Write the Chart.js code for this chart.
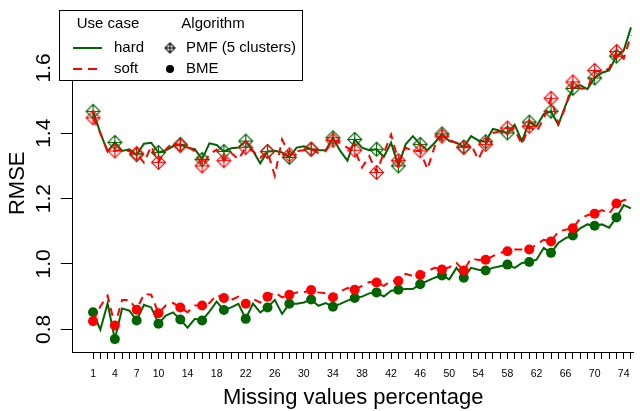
<!DOCTYPE html>
<html>
<head>
<meta charset="utf-8">
<script src="https://cdn.jsdelivr.net/npm/chart.js@4.4.1/dist/chart.umd.min.js"></script>
<style>
  html, body { margin: 0; padding: 0; background: #fff; }
  #wrap { width: 640px; height: 411px; }
</style>
</head>
<body>
<div id="wrap"><canvas id="rmseChart"></canvas></div>
<script>
// Missing values percentage (x) and the labelled ticks
const xValues = [];
for (let i = 1; i <= 75; i++) xValues.push(i);
const xLabels = [1, 4, 7, 10, 14, 18, 22, 26, 30, 34, 38, 42, 46, 50, 54, 58, 62, 66, 70, 74];
const yTicks = [0.8, 1.0, 1.2, 1.4, 1.6];

// RMSE per percentage
const pmfHard = [1.467, 1.401, 1.344, 1.372, 1.346, 1.351, 1.334, 1.368, 1.371, 1.341,
  1.348, 1.360, 1.366, 1.356, 1.351, 1.320, 1.369, 1.364, 1.344, 1.354,
  1.356, 1.376, 1.346, 1.308, 1.344, 1.346, 1.341, 1.326, 1.356, 1.360,
  1.351, 1.348, 1.348, 1.386, 1.346, 1.316, 1.381, 1.356, 1.348, 1.351,
  1.328, 1.371, 1.300, 1.366, 1.391, 1.366, 1.348, 1.371, 1.398, 1.376,
  1.371, 1.358, 1.391, 1.378, 1.374, 1.413, 1.408, 1.401, 1.426, 1.376,
  1.434, 1.421, 1.459, 1.467, 1.426, 1.485, 1.537, 1.547, 1.535, 1.569,
  1.585, 1.592, 1.636, 1.653, 1.724];
const pmfSoft = [1.447, 1.400, 1.345, 1.346, 1.350, 1.345, 1.338, 1.310, 1.360, 1.311,
  1.350, 1.372, 1.362, 1.358, 1.345, 1.300, 1.335, 1.350, 1.316, 1.340,
  1.320, 1.356, 1.345, 1.325, 1.344, 1.270, 1.381, 1.334, 1.345, 1.348,
  1.351, 1.340, 1.345, 1.378, 1.370, 1.355, 1.348, 1.295, 1.330, 1.280,
  1.340, 1.396, 1.316, 1.356, 1.345, 1.346, 1.290, 1.360, 1.391, 1.380,
  1.370, 1.356, 1.365, 1.320, 1.366, 1.401, 1.405, 1.416, 1.410, 1.366,
  1.421, 1.405, 1.445, 1.507, 1.428, 1.480, 1.557, 1.537, 1.537, 1.592,
  1.588, 1.598, 1.650, 1.628, 1.700];
const bmeHard = [0.852, 0.799, 0.879, 0.770, 0.864, 0.857, 0.827, 0.875, 0.867, 0.817,
  0.842, 0.852, 0.830, 0.805, 0.832, 0.827, 0.854, 0.885, 0.859, 0.867,
  0.878, 0.832, 0.879, 0.852, 0.867, 0.890, 0.847, 0.878, 0.878, 0.882,
  0.891, 0.872, 0.880, 0.869, 0.878, 0.888, 0.896, 0.900, 0.910, 0.913,
  0.900, 0.918, 0.921, 0.923, 0.923, 0.938, 0.948, 0.958, 0.965, 0.953,
  0.988, 0.958, 0.988, 0.982, 0.980, 0.988, 0.993, 0.998, 0.988, 1.003,
  1.006, 1.013, 1.049, 1.034, 1.064, 1.079, 1.087, 1.109, 1.121, 1.117,
  1.121, 1.111, 1.142, 1.180, 1.170];
const bmeSoft = [0.825, 0.870, 0.903, 0.812, 0.890, 0.890, 0.860, 0.908, 0.906, 0.849,
  0.873, 0.881, 0.867, 0.852, 0.873, 0.873, 0.880, 0.905, 0.896, 0.890,
  0.900, 0.878, 0.893, 0.882, 0.900, 0.913, 0.898, 0.906, 0.913, 0.913,
  0.920, 0.913, 0.910, 0.898, 0.916, 0.926, 0.921, 0.933, 0.945, 0.943,
  0.933, 0.948, 0.948, 0.970, 0.963, 0.966, 0.978, 0.988, 0.983, 0.990,
  1.003, 0.980, 1.017, 1.012, 1.013, 1.024, 1.034, 1.039, 1.044, 1.044,
  1.044, 1.060, 1.074, 1.069, 1.099, 1.105, 1.109, 1.139, 1.149, 1.154,
  1.165, 1.154, 1.185, 1.195, 1.200];

const useCases = ['hard', 'soft'];
const algorithms = ['PMF (5 clusters)', 'BME'];

const FONT = '"Liberation Sans", Arial, Helvetica, sans-serif';
const GREEN = '#006400';
const RED = '#ff0000';

// diamond with a plus inside (R pch 9)
function diamondPlus(color, half) {
    const c = document.createElement('canvas');
    const s = half * 2 + 3;
    c.width = s; c.height = s;
    const g = c.getContext('2d');
    const m = s / 2;
    g.strokeStyle = color;
    g.lineWidth = 1.1;
    g.beginPath();
    g.moveTo(m, m - half); g.lineTo(m + half, m); g.lineTo(m, m + half); g.lineTo(m - half, m); g.closePath();
    g.moveTo(m, m - half); g.lineTo(m, m + half);
    g.moveTo(m - half, m); g.lineTo(m + half, m);
    g.stroke();
    return c;
}

function toPoints(arr) {
    return xValues.map((x, i) => ({ x: x, y: arr[i] }));
}

// markers only every third percentage (1, 4, 7, ...)
const everyThird = (r) => (ctx) => (ctx.dataIndex % 3 === 0 ? r : 0);

function series(label, arr, color, dashed, marker, order) {
    const ds = {
        label: label,
        data: toPoints(arr),
        borderColor: color,
        borderWidth: 2,
        borderDash: dashed ? [8, 6] : [],
        backgroundColor: color,
        pointBackgroundColor: color,
        pointBorderWidth: 0,
        pointRadius: everyThird(5),
        pointHoverRadius: 0,
        tension: 0,
        order: order
    };
    if (marker === 'pmf') {
        ds.pointStyle = diamondPlus(color, 7);
    } else {
        ds.pointStyle = 'circle';
    }
    return ds;
}

// R-style two column legend
const legendPlugin = {
    id: 'rLegend',
    afterDraw(chart) {
        const ctx = chart.ctx;
        ctx.save();
        ctx.fillStyle = '#fff';
        ctx.fillRect(59.5, 10.5, 243, 70);
        ctx.strokeStyle = '#000';
        ctx.lineWidth = 1;
        ctx.strokeRect(59.5, 10.5, 243, 70);

        ctx.font = '15px ' + FONT;
        ctx.fillStyle = '#000';
        ctx.textBaseline = 'middle';
        ctx.textAlign = 'center';
        ctx.fillText('Use case', 108, 24);
        ctx.fillText('Algorithm', 213, 24);

        ctx.textAlign = 'left';
        const rows = [48, 69];
        // use case lines
        ctx.lineWidth = 2;
        ctx.strokeStyle = GREEN;
        ctx.setLineDash([]);
        ctx.beginPath(); ctx.moveTo(73, rows[0]); ctx.lineTo(102, rows[0]); ctx.stroke();
        ctx.strokeStyle = RED;
        ctx.setLineDash([9, 6]);
        ctx.beginPath(); ctx.moveTo(73, rows[1]); ctx.lineTo(102, rows[1]); ctx.stroke();
        ctx.setLineDash([]);
        ctx.fillText(useCases[0], 114, rows[0]);
        ctx.fillText(useCases[1], 114, rows[1]);

        // algorithm symbols
        const d = diamondPlus('#000', 5);
        ctx.drawImage(d, 170 - d.width / 2, rows[0] - d.height / 2);
        ctx.beginPath();
        ctx.arc(170, rows[1], 4, 0, Math.PI * 2);
        ctx.fill();
        ctx.fillText(algorithms[0], 186, rows[0]);
        ctx.fillText(algorithms[1], 186, rows[1]);
        ctx.restore();
    }
};

const ctx = document.getElementById('rmseChart').getContext('2d');
const rmseChart = new Chart(ctx, {
    type: 'line',
    data: {
        datasets: [
            series('PMF soft', pmfSoft, RED, true, 'pmf', 0),
            series('BME soft', bmeSoft, RED, true, 'bme', 0),
            series('PMF hard', pmfHard, GREEN, false, 'pmf', 1),
            series('BME hard', bmeHard, GREEN, false, 'bme', 1)
        ]
    },
    options: {
        responsive: true,
        maintainAspectRatio: false,
        animation: false,
        layout: { padding: { top: 10.5, right: 0, bottom: 0, left: 0 } },
        plugins: {
            legend: { display: false },
            tooltip: { enabled: false }
        },
        scales: {
            x: {
                type: 'linear',
                min: -1.8,
                max: 75.36,
                afterBuildTicks: function(s) { s.ticks = xValues.map(v => ({ value: v })); },
                afterFit: function(s) { s.height = 59; },
                ticks: {
                    autoSkip: false,
                    maxRotation: 0,
                    padding: 9,
                    color: '#000',
                    font: { size: 10.5, family: FONT },
                    callback: function(v) { return xLabels.includes(v) ? String(v) : ''; }
                },
                grid: { drawOnChartArea: false, drawTicks: true, tickLength: 7, color: '#000' },
                border: { display: true, color: '#000', width: 1 },
                title: {
                    display: true,
                    text: 'Missing values percentage',
                    color: '#000',
                    font: { size: 22, family: FONT },
                    padding: { top: 0, bottom: 0 }
                }
            },
            y: {
                type: 'linear',
                min: 0.7306,
                max: 1.763,
                afterBuildTicks: function(s) { s.ticks = yTicks.map(v => ({ value: v })); },
                afterFit: function(s) { s.width = 72.7; },
                ticks: {
                    minRotation: 90,
                    maxRotation: 90,
                    crossAlign: 'center',
                    padding: 2,
                    color: '#000',
                    font: { size: 21, family: FONT },
                    callback: function(v) { return v.toFixed(1); }
                },
                grid: { drawOnChartArea: false, drawTicks: true, tickLength: 12, color: '#000' },
                border: { display: true, color: '#000', width: 1 },
                title: {
                    display: true,
                    text: 'RMSE',
                    color: '#000',
                    font: { size: 22, family: FONT },
                    padding: { top: 5, bottom: 0 }
                }
            }
        }
    },
    plugins: [legendPlugin]
});
</script>
</body>
</html>
